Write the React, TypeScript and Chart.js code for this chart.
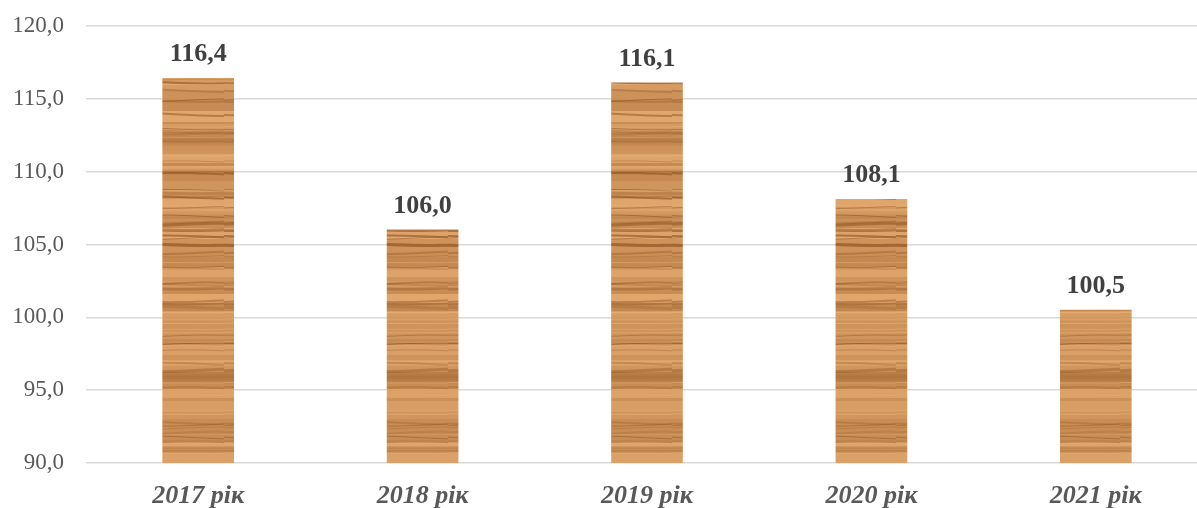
import React, { useEffect, useRef } from "react";
import { Chart, registerables } from "chart.js";

Chart.register(...registerables);

const categories = ["2017 рік", "2018 рік", "2019 рік", "2020 рік", "2021 рік"];
const values = [116.4, 106.0, 116.1, 108.1, 100.5];
const yMin = 90;
const yMax = 120;
const yStep = 5;

const fmt = (v: number) => v.toFixed(1).replace(".", ",");

function hash(n: number) {
  const s = Math.sin(n * 127.1 + 311.7) * 43758.5453;
  return s - Math.floor(s);
}

function makeWoodPattern(ctx: CanvasRenderingContext2D) {
  const w = 224;
  const h = 440;
  const base = document.createElement("canvas");
  base.width = w;
  base.height = h;
  const g = base.getContext("2d")!;
  g.fillStyle = "rgb(212,152,96)";
  g.fillRect(0, 0, w, h);
  let y = 0;
  let i = 0;
  while (y < h) {
    const bh = 2 + Math.floor(hash(i) * 10);
    const t = hash(i + 100);
    const r = Math.round(196 + t * 32);
    const gg = Math.round(136 + t * 34);
    const b = Math.round(80 + t * 32);
    g.fillStyle = `rgb(${r},${gg},${b})`;
    g.fillRect(0, y, w, bh);
    y += bh;
    i++;
  }
  // occasional broad dark bands
  for (let k = 0; k < 6; k++) {
    const ly = hash(k + 4100) * h;
    const bh = 6 + hash(k + 4200) * 10;
    const grad = g.createLinearGradient(0, ly, 0, ly + bh);
    grad.addColorStop(0, "rgba(150,90,40,0)");
    grad.addColorStop(0.5, "rgba(150,90,40,0.45)");
    grad.addColorStop(1, "rgba(150,90,40,0)");
    g.fillStyle = grad;
    g.fillRect(0, ly, w, bh);
  }
  for (let k = 0; k < 55; k++) {
    const ly = hash(k + 500) * h;
    const dark = hash(k + 900);
    const alpha = 0.2 + dark * 0.4;
    g.strokeStyle = `rgba(140,80,35,${alpha.toFixed(2)})`;
    g.lineWidth = 1 + Math.floor(hash(k + 1300) * 3);
    g.beginPath();
    g.moveTo(-10, ly);
    for (let x = -10; x <= w + 20; x += 10) {
      g.lineTo(x, ly + Math.sin((x + k * 13) / 30) * 1.5);
    }
    g.stroke();
  }
  for (let k = 0; k < 30; k++) {
    const ly = hash(k + 2500) * h;
    g.strokeStyle = `rgba(235,185,130,${(0.25 + hash(k + 2900) * 0.3).toFixed(2)})`;
    g.lineWidth = 1;
    g.beginPath();
    g.moveTo(0, ly);
    g.lineTo(w, ly + 0.5);
    g.stroke();
  }
  const c = document.createElement("canvas");
  c.width = w;
  c.height = h;
  const g2 = c.getContext("2d")!;
  g2.filter = "blur(0.7px)";
  g2.drawImage(base, 0, 0);
  return ctx.createPattern(c, "repeat")!;
}

const valueLabels = {
  id: "valueLabels",
  afterDatasetsDraw(chart: any) {
    const ctx = chart.ctx;
    const meta = chart.getDatasetMeta(0);
    ctx.save();
    ctx.font = 'bold 26px "Liberation Serif", "Times New Roman", serif';
    ctx.fillStyle = "#404040";
    ctx.textAlign = "center";
    ctx.textBaseline = "alphabetic";
    meta.data.forEach((bar: any, idx: number) => {
      ctx.fillText(fmt(values[idx]), bar.x, bar.y - 17);
    });
    ctx.restore();
  },
};

export default function App() {
  const ref = useRef<HTMLCanvasElement>(null);
  useEffect(() => {
    const canvas = ref.current!;
    const ctx = canvas.getContext("2d")!;
    const pattern = makeWoodPattern(ctx);
    const chart = new Chart(canvas, {
      type: "bar",
      data: {
        labels: categories,
        datasets: [
          {
            data: values,
            backgroundColor: pattern as any,
            borderWidth: 0,
            barThickness: 71,
          },
        ],
      },
      options: {
        animation: false,
        responsive: false,
        maintainAspectRatio: false,
        devicePixelRatio: 1,
        layout: { padding: { top: 26, left: 0, right: 2, bottom: 0 } },
        plugins: {
          legend: { display: false },
          tooltip: { enabled: false },
        },
        scales: {
          x: {
            grid: { display: false, drawTicks: false },
            border: { display: false },
            ticks: {
              padding: 18,
              color: "#595959",
              font: { family: '"Liberation Serif", "Times New Roman", serif', size: 26, weight: "bold", style: "italic" },
            },
            afterFit: (s: any) => {
              s.height = 45;
              s.paddingLeft = 0;
              s.paddingRight = 0;
            },
          },
          y: {
            min: yMin,
            max: yMax,
            grid: { color: "#D9D9D9", lineWidth: 1.5, drawTicks: false },
            border: { display: false },
            ticks: {
              stepSize: yStep,
              padding: 22,
              color: "#595959",
              font: { family: '"Liberation Serif", "Times New Roman", serif', size: 23 },
              callback: (v: any) => fmt(Number(v)),
            },
            afterFit: (s: any) => {
              s.width = 86;
              s.paddingTop = 0;
              s.paddingBottom = 0;
            },
          },
        },
      },
      plugins: [valueLabels],
    });
    return () => chart.destroy();
  }, []);
  return (
    <div style={{ position: "fixed", left: 0, top: 0, width: 1197, height: 508, overflow: "hidden", background: "#fff" }}>
      <canvas ref={ref} width={1210} height={508} style={{ display: "block", width: 1210, height: 508 }} />
    </div>
  );
}
